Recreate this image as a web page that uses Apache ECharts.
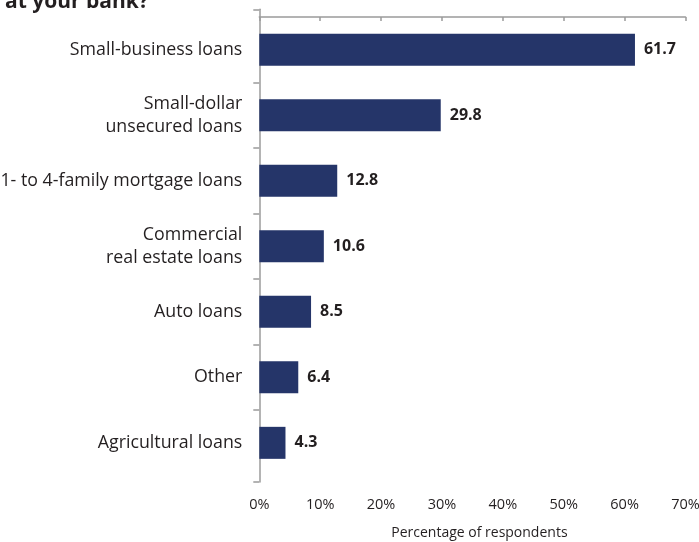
<!DOCTYPE html>
<html>
<head>
<meta charset="utf-8">
<script src="https://cdn.jsdelivr.net/npm/echarts@6/dist/echarts.min.js"></script>
<style>
html,body{margin:0;padding:0;background:#fff;}
#chart{width:699px;height:542px;}
</style>
</head>
<body>
<div id="chart"></div>
<script>
const titleText = 'at your bank?';
const categories = [
  'Small-business loans',
  'Small-dollar\nunsecured loans',
  '1- to 4-family mortgage loans',
  'Commercial\nreal estate loans',
  'Auto loans',
  'Other',
  'Agricultural loans'
];
const values = [61.7, 29.8, 12.8, 10.6, 8.5, 6.4, 4.3];
const xMin = 0, xMax = 70, xStep = 10;
const xAxisName = 'Percentage of respondents';

const FONT = '"Open Sans", sans-serif';
const TXT = '#231f20';
const AX = '#9b9b9b';
const BAR = '#253569';

// axis-line frame: in category band units, line extends slightly beyond first/last band
const extTop = -0.118, extBottom = 7.098;
const frameTicks = [extTop, 1, 2, 3, 4, 5, 6, extBottom];

const chart = echarts.init(document.getElementById('chart'));
chart.setOption({
  animation: false,
  backgroundColor: '#fff',
  title: {
    text: titleText, left: 0, top: -13,
    textStyle: {fontFamily: FONT, fontWeight: 'bold', fontSize: 21, color: TXT}
  },
  grid: [
    {left: 259.3, right: 13.5, top: 17, bottom: 66.4, containLabel: false, outerBoundsMode: 'none'},
    {left: 259.3, right: 13.5, top: 9.3, bottom: 60, containLabel: false, outerBoundsMode: 'none'}
  ],
  xAxis: [
    {gridIndex: 0, type: 'value', min: xMin, max: xMax, interval: xStep, show: false},
    {
      gridIndex: 1, type: 'value', min: xMin, max: xMax, interval: xStep,
      axisLine: {show: true, lineStyle: {color: AX, width: 1.5}},
      axisTick: {show: true, length: 4, lineStyle: {color: AX, width: 1.5}},
      splitLine: {show: false},
      axisLabel: {formatter: '{value}%', margin: 15, fontFamily: FONT, fontSize: 14.5, color: TXT},
      name: xAxisName, nameLocation: 'middle', nameGap: 44,
      nameTextStyle: {fontFamily: FONT, fontSize: 14, color: TXT, padding: [0, 0, 0, 14]}
    }
  ],
  yAxis: [
    {
      gridIndex: 0, type: 'category', data: categories, inverse: true,
      axisLine: {show: false}, axisTick: {show: false}, splitLine: {show: false},
      axisLabel: {margin: 17, fontFamily: FONT, fontSize: 17.8, color: TXT, lineHeight: 23, align: 'right'}
    },
    {
      gridIndex: 1, type: 'value', min: extTop, max: extBottom, inverse: true,
      axisLine: {show: true, lineStyle: {color: AX, width: 1.5}},
      axisTick: {show: true, length: 6, customValues: frameTicks, lineStyle: {color: AX, width: 1.5}},
      axisLabel: {show: false}, splitLine: {show: false}
    }
  ],
  series: [{
    type: 'bar', xAxisIndex: 0, yAxisIndex: 0, data: values, barWidth: 32,
    itemStyle: {color: BAR},
    label: {
      show: true, position: 'right', distance: 9,
      formatter: p => p.value.toFixed(1),
      fontFamily: FONT, fontWeight: 'bold', fontSize: 16, color: TXT
    }
  }]
});
</script>
</body>
</html>
